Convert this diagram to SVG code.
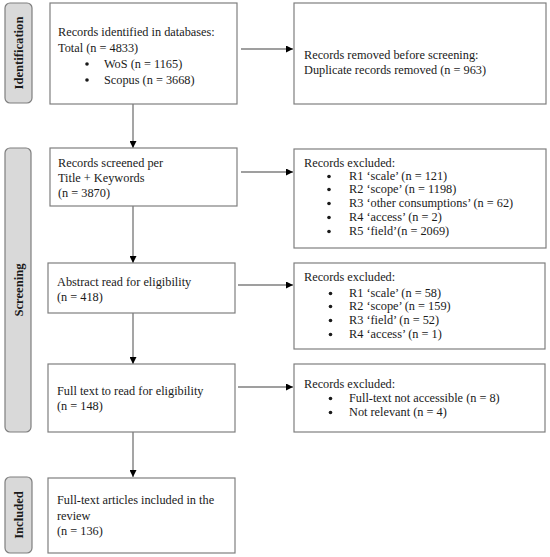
<svg xmlns="http://www.w3.org/2000/svg" width="550" height="557" viewBox="0 0 550 557">
<defs>
<marker id="ah" viewBox="0 0 10 10" refX="10" refY="5" markerWidth="7" markerHeight="7" markerUnits="userSpaceOnUse" orient="auto">
<path d="M0,0 L10,5 L0,10 z" fill="#000"/>
</marker>
<style>
.box{fill:#fff;stroke:#7f7f7f;stroke-width:1.2}
.side{fill:#d9d9d9;stroke:#7f7f7f;stroke-width:1.2}
text{font-family:"Liberation Serif","Times New Roman",serif;font-size:12.3px;fill:#1a1a1a}
.lab{font-weight:bold;font-size:12.6px}
.bul{fill:#1a1a1a}
.con{stroke:#7f7f7f;stroke-width:1.4;fill:none;marker-end:url(#ah)}
</style>
</defs>
<rect width="550" height="557" fill="#fff"/>
<g id="side-identification">
<rect class="side" x="5" y="3" width="27" height="100" rx="5"/>
<text class="lab" transform="translate(22.5,53) rotate(-90)" text-anchor="middle">Identification</text>
</g>
<g id="side-screening">
<rect class="side" x="5" y="148" width="26" height="284" rx="5"/>
<text class="lab" transform="translate(22.5,290) rotate(-90)" text-anchor="middle">Screening</text>
</g>
<g id="side-included">
<rect class="side" x="5" y="477" width="27" height="76" rx="5"/>
<text class="lab" transform="translate(22.5,515) rotate(-90)" text-anchor="middle">Included</text>
</g>
<g id="connectors">
<line class="con" x1="241" y1="49" x2="293" y2="49"/>
<line class="con" x1="133" y1="104" x2="133" y2="148"/>
<line class="con" x1="241" y1="172" x2="293" y2="172"/>
<line class="con" x1="133" y1="206" x2="133" y2="263"/>
<line class="con" x1="238" y1="285" x2="293" y2="285"/>
<line class="con" x1="133" y1="313" x2="133" y2="364"/>
<line class="con" x1="238" y1="387" x2="293" y2="387"/>
<line class="con" x1="133" y1="432" x2="133" y2="477"/>
</g>
<g id="identified">
<rect class="box" x="50" y="3" width="187" height="101"/>
<text x="58" y="36">Records identified in databases:</text>
<text x="58" y="52">Total (n = 4833)</text>
<circle class="bul" cx="87" cy="64" r="1.8"/><text x="104" y="68">WoS (n = 1165)</text>
<circle class="bul" cx="87" cy="80" r="1.8"/><text x="104" y="84">Scopus (n = 3668)</text>
</g>
<g id="removed">
<rect class="box" x="294" y="3" width="252" height="101"/>
<text x="304" y="59">Records removed before screening:</text>
<text x="304" y="74">Duplicate records removed (n = 963)</text>
</g>
<g id="screened">
<rect class="box" x="50" y="148" width="187" height="58"/>
<text x="58" y="167">Records screened per</text>
<text x="58" y="182">Title + Keywords</text>
<text x="58" y="197">(n = 3870)</text>
</g>
<g id="excluded1">
<rect class="box" x="294" y="149" width="252" height="99"/>
<text x="304" y="167">Records excluded:</text>
<circle class="bul" cx="329" cy="176.5" r="1.8"/><text x="349" y="180">R1 ‘scale’ (n = 121)</text>
<circle class="bul" cx="329" cy="189.5" r="1.8"/><text x="349" y="193">R2 ‘scope’ (n = 1198)</text>
<circle class="bul" cx="329" cy="203.5" r="1.8"/><text x="349" y="207">R3 ‘other consumptions’ (n = 62)</text>
<circle class="bul" cx="329" cy="217.5" r="1.8"/><text x="349" y="221">R4 ‘access’ (n = 2)</text>
<circle class="bul" cx="329" cy="231.5" r="1.8"/><text x="349" y="235">R5 ‘field’(n = 2069)</text>
</g>
<g id="abstract">
<rect class="box" x="48" y="263" width="187" height="50"/>
<text x="57" y="286">Abstract read for eligibility</text>
<text x="57" y="301">(n = 418)</text>
</g>
<g id="excluded2">
<rect class="box" x="294" y="263" width="251" height="86"/>
<text x="304" y="281">Records excluded:</text>
<circle class="bul" cx="330.5" cy="293.5" r="1.8"/><text x="349" y="297">R1 ‘scale’ (n = 58)</text>
<circle class="bul" cx="330.5" cy="306.5" r="1.8"/><text x="349" y="310">R2 ‘scope’ (n = 159)</text>
<circle class="bul" cx="330.5" cy="320.5" r="1.8"/><text x="349" y="324">R3 ‘field’ (n = 52)</text>
<circle class="bul" cx="330.5" cy="334.5" r="1.8"/><text x="349" y="338">R4 ‘access’ (n = 1)</text>
</g>
<g id="fulltext">
<rect class="box" x="48" y="364" width="187" height="68"/>
<text x="57" y="395">Full text to read for eligibility</text>
<text x="57" y="410">(n = 148)</text>
</g>
<g id="excluded3">
<rect class="box" x="294" y="364" width="251" height="68"/>
<text x="304" y="388">Records excluded:</text>
<circle class="bul" cx="330.5" cy="398.5" r="1.8"/><text x="349" y="402">Full-text not accessible (n = 8)</text>
<circle class="bul" cx="330.5" cy="412.5" r="1.8"/><text x="349" y="416">Not relevant (n = 4)</text>
</g>
<g id="included">
<rect class="box" x="48" y="478" width="187" height="75"/>
<text x="57" y="504">Full-text articles included in the</text>
<text x="57" y="520">review</text>
<text x="57" y="535">(n = 136)</text>
</g>
</svg>
